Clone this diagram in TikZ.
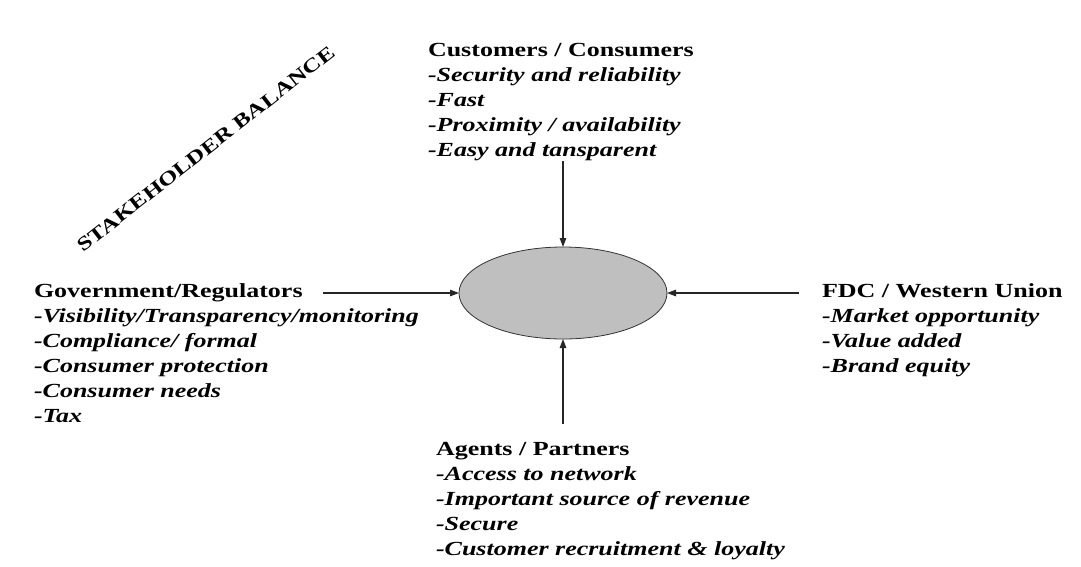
\documentclass[tikz,border=0pt]{standalone}
\usepackage{fontspec}
\setmainfont{Liberation Serif}[FakeStretch=1.3]
\usetikzlibrary{arrows.meta,shapes.geometric}

% a left-aligned block whose baseline is that of its first line
\newcommand{\grouptext}[1]{\begin{tabular}[t]{@{}l@{}}#1\end{tabular}}

\begin{document}
\begin{tikzpicture}[x=1pt,y=-1pt,
  every node/.style={inner sep=0pt,outer sep=0pt},
  group/.style={anchor=base west,font=\fontsize{20}{25}\selectfont},
  hubshape/.style={ellipse,draw=black!80,line width=0.8pt,fill=black!25,
                   minimum width=208pt,minimum height=92pt},
  arr/.style={draw=black!85,line width=1.2pt,-{Triangle[length=9pt,width=6.5pt]}},
  banner/.style={font=\fontsize{19.3}{24}\selectfont\bfseries}]

  % page
  \fill[white] (0,0) rectangle (1081,566);
  \useasboundingbox (0,0) rectangle (1081,566);

  % central hub
  \node[hubshape] (hub) at (563,293) {};

  % stakeholder groups
  \node[group] (cust) at (428,56) {\grouptext{\textbf{Customers / Consumers}\\
    \textbf{\itshape -Security and reliability}\\
    \textbf{\itshape -Fast}\\
    \textbf{\itshape -Proximity / availability}\\
    \textbf{\itshape -Easy and tansparent}}};

  \node[group] (gov) at (34,297) {\grouptext{\textbf{Government/Regulators}\\
    \textbf{\itshape -Visibility/Transparency/monitoring}\\
    \textbf{\itshape -Compliance/ formal}\\
    \textbf{\itshape -Consumer protection}\\
    \textbf{\itshape -Consumer needs}\\
    \textbf{\itshape -Tax}}};

  \node[group] (fdc) at (822,297) {\grouptext{\textbf{FDC / Western Union}\\
    \textbf{\itshape -Market opportunity}\\
    \textbf{\itshape -Value added}\\
    \textbf{\itshape -Brand equity}}};

  \node[group] (agents) at (436,455) {\grouptext{\textbf{Agents / Partners}\\
    \textbf{\itshape -Access to network}\\
    \textbf{\itshape -Important source of revenue}\\
    \textbf{\itshape -Secure}\\
    \textbf{\itshape -Customer recruitment \& loyalty}}};

  % diagonal heading
  \node[banner,rotate=38] (title) at (206,149) {STAKEHOLDER BALANCE};

  % arrow tails
  \coordinate (tTop) at (563,161);
  \coordinate (tLeft) at (323,293);
  \coordinate (tRight) at (799,293);
  \coordinate (tBottom) at (563,424);

  % arrows into the hub
  \draw[arr] (tTop) -- (hub);
  \draw[arr] (tLeft) -- (hub);
  \draw[arr] (tRight) -- (hub);
  \draw[arr] (tBottom) -- (hub);
\end{tikzpicture}
\end{document}
